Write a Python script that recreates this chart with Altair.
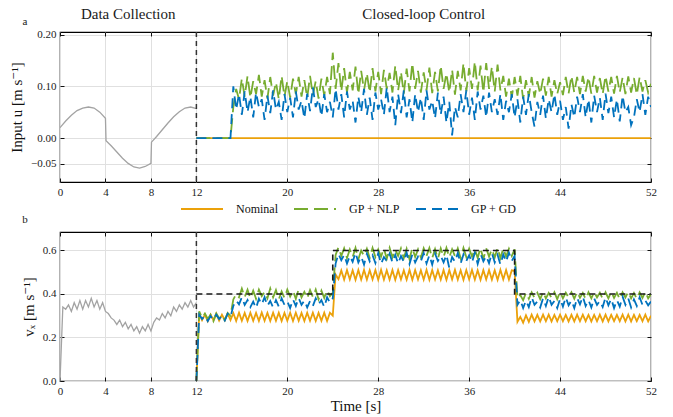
import altair as alt
import numpy as np
import pandas as pd

# ---------------------------------------------------------------- data
SERIES = ["Nominal", "GP + NLP", "GP + GD"]
COLORS = ["#EBA10A", "#77AC30", "#0072BD"]
DASHES = [[1, 0], [14, 6], [10, 6]]

X_TICKS = [0, 4, 8, 12, 20, 28, 36, 44, 52]
U_TICKS = [-0.05, 0.0, 0.10, 0.20]
V_TICKS = [0.0, 0.2, 0.4, 0.6]

PHASES = ["Data Collection", "Closed-loop Control"]
PHASE_CENTERS = [6, 32]

# data-collection excitation input (0-12 s)
t_collect_u = [0, 0.5, 1.0, 1.5, 2.0, 2.5, 3.0, 3.5, 4.0, 4.05, 4.5, 5.0, 5.5,
               6.0, 6.5, 7.0, 7.5, 8.0, 8.05, 8.5, 9.0, 9.5, 10.0, 10.5, 11.0,
               11.5, 12.0]
u_collect = [0.020, 0.033, 0.044, 0.053, 0.058, 0.060, 0.058, 0.050, 0.038,
             -0.005, -0.015, -0.027, -0.039, -0.049, -0.056, -0.058, -0.055,
             -0.049, -0.008, 0.003, 0.016, 0.029, 0.041, 0.051, 0.058, 0.060,
             0.057]

# data-collection forward velocity (0-12 s, every 0.25 s)
v_collect = [0.000, 0.340, 0.330, 0.350, 0.320, 0.360, 0.330, 0.370, 0.330,
             0.370, 0.340, 0.380, 0.340, 0.370, 0.330, 0.360, 0.320, 0.310,
             0.290, 0.280, 0.260, 0.280, 0.250, 0.270, 0.240, 0.260, 0.230,
             0.250, 0.220, 0.250, 0.230, 0.260, 0.230, 0.270, 0.290, 0.280,
             0.310, 0.290, 0.320, 0.300, 0.340, 0.320, 0.350, 0.330, 0.360,
             0.340, 0.370, 0.340, 0.360]

# closed-loop input, nominal controller (constant zero)
t_nominal_u = [12, 52]
u_nominal = [0.0, 0.0]

# closed-loop input, GP + NLP (12-52 s, every 0.25 s)
u_nlp = [
    0, 0, 0, 0,  0, 0, 0, 0,  0, 0, 0, 0,
    0, 0.060, 0.095, 0.075,
    0.115, 0.080, 0.120, 0.078,  0.110, 0.085, 0.122, 0.080,
    0.112, 0.076, 0.118, 0.082,  0.108, 0.075, 0.120, 0.080,
    0.110, 0.078, 0.115, 0.085,  0.118, 0.080, 0.112, 0.078,
    0.120, 0.083, 0.110, 0.076,  0.115, 0.082, 0.118, 0.085,
    0.165, 0.095, 0.145, 0.090,  0.135, 0.088, 0.128, 0.092,
    0.138, 0.085, 0.130, 0.092,  0.125, 0.088, 0.135, 0.090,
    0.128, 0.085, 0.132, 0.095,  0.126, 0.088, 0.140, 0.092,
    0.128, 0.086, 0.134, 0.090,  0.145, 0.095, 0.130, 0.088,
    0.127, 0.092, 0.136, 0.087,  0.128, 0.090, 0.140, 0.095,
    0.125, 0.088, 0.132, 0.084,  0.130, 0.092, 0.145, 0.090,
    0.135, 0.095, 0.148, 0.092,  0.140, 0.088, 0.145, 0.095,
    0.138, 0.090, 0.142, 0.092,  0.120, 0.080, 0.115, 0.078,
    0.118, 0.082, 0.120, 0.075,  0.112, 0.080, 0.118, 0.078,
    0.110, 0.085, 0.115, 0.082,  0.118, 0.080, 0.112, 0.085,
    0.108, 0.083, 0.118, 0.086,  0.120, 0.088, 0.118, 0.085,
    0.120, 0.090, 0.118, 0.086,  0.120, 0.088, 0.116, 0.085,
    0.120, 0.090, 0.118, 0.086,  0.120, 0.088, 0.117, 0.085,
    0.119, 0.088, 0.116, 0.084,  0.118, 0.090, 0.112, 0.088,
    0.105,
]

# closed-loop input, GP + GD (12-52 s, every 0.25 s)
u_gd = [
    0, 0, 0, 0,  0, 0, 0, 0,  0, 0, 0, 0,
    0, 0.100, 0.055, 0.085,
    0.045, 0.090, 0.050, 0.080,  0.040, 0.088, 0.060, 0.075,
    0.035, 0.082, 0.048, 0.092,  0.055, 0.070, 0.035, 0.085,
    0.050, 0.078, 0.040, 0.090,  0.055, 0.072, 0.038, 0.086,
    0.052, 0.098, 0.060, 0.075,  0.042, 0.085, 0.050, 0.070,
    0.040, 0.095, 0.055, 0.085,  0.040, 0.090, 0.055, 0.072,
    0.030, 0.080, 0.050, 0.095,  0.045, 0.078, 0.035, 0.088,
    0.055, 0.075, 0.045, 0.098,  0.050, 0.080, 0.025, 0.085,
    0.048, 0.092, 0.040, 0.075,  0.030, 0.085, 0.050, 0.078,
    0.035, 0.092, 0.055, 0.072,  0.038, 0.088, 0.045, 0.080,
    0.030, 0.070, 0.005, 0.060,  0.040, 0.085, 0.050, 0.092,
    0.045, 0.078, 0.035, 0.090,  0.055, 0.082, 0.040, 0.088,
    0.050, 0.075, 0.045, 0.085,  0.035, 0.072, 0.050, 0.085,
    0.040, 0.075, 0.030, 0.080,  0.045, 0.085, 0.050, 0.022,
    0.070, 0.045, 0.082, 0.038,  0.075, 0.050, 0.085, 0.045,
    0.072, 0.035, 0.060, 0.018,  0.065, 0.040, 0.080, 0.050,
    0.085, 0.040, 0.075, 0.030,  0.082, 0.050, 0.078, 0.035,
    0.086, 0.048, 0.080, 0.040,  0.075, 0.032, 0.082, 0.050,
    0.060, 0.025, 0.040, 0.075,  0.050, 0.085, 0.045, 0.080,
    0.060,
]

# closed-loop velocity, nominal controller
v_nominal = [
    0.000, 0.310, 0.280, 0.305,  0.275, 0.305, 0.280, 0.310,
    0.278, 0.305, 0.280, 0.310,  0.280, 0.312, 0.276, 0.314,
    0.277, 0.313, 0.276, 0.314,  0.277, 0.313, 0.276, 0.315,
    0.277, 0.313, 0.276, 0.314,  0.277, 0.314, 0.276, 0.313,
    0.277, 0.314, 0.276, 0.314,  0.277, 0.313, 0.276, 0.314,
    0.277, 0.314, 0.276, 0.313,  0.277, 0.314, 0.276, 0.314,
    0.300, 0.490, 0.468, 0.508,  0.466, 0.510, 0.467, 0.509,
    0.465, 0.510, 0.466, 0.511,  0.466, 0.509, 0.467, 0.510,
    0.465, 0.511, 0.466, 0.509,  0.466, 0.510, 0.465, 0.510,
    0.467, 0.509, 0.466, 0.511,  0.465, 0.510, 0.467, 0.509,
    0.466, 0.511, 0.465, 0.510,  0.467, 0.509, 0.466, 0.510,
    0.465, 0.510, 0.467, 0.511,  0.466, 0.509, 0.465, 0.510,
    0.467, 0.511, 0.466, 0.509,  0.465, 0.510, 0.467, 0.510,
    0.466, 0.509, 0.465, 0.511,  0.467, 0.510, 0.466, 0.509,
    0.505, 0.272, 0.295, 0.268,  0.302, 0.272, 0.305, 0.274,
    0.304, 0.274, 0.305, 0.275,  0.305, 0.274, 0.304, 0.275,
    0.305, 0.275, 0.304, 0.274,  0.304, 0.274, 0.305, 0.275,
    0.305, 0.275, 0.304, 0.274,  0.304, 0.275, 0.305, 0.274,
    0.305, 0.274, 0.304, 0.275,  0.304, 0.275, 0.305, 0.274,
    0.305, 0.274, 0.304, 0.275,  0.304, 0.275, 0.305, 0.274,
    0.300,
]

# closed-loop velocity, GP + NLP
v_nlp = [
    0.000, 0.320, 0.290, 0.310,  0.285, 0.305, 0.275, 0.310,
    0.290, 0.300, 0.280, 0.312,  0.300, 0.375, 0.400, 0.385,
    0.425, 0.385, 0.420, 0.380,  0.415, 0.378, 0.420, 0.390,
    0.410, 0.380, 0.425, 0.385,  0.418, 0.375, 0.412, 0.382,
    0.420, 0.388, 0.415, 0.378,  0.422, 0.384, 0.410, 0.380,
    0.418, 0.386, 0.420, 0.376,  0.415, 0.382, 0.418, 0.390,
    0.405, 0.580, 0.615, 0.575,  0.610, 0.565, 0.605, 0.570,
    0.612, 0.560, 0.600, 0.575,  0.608, 0.565, 0.612, 0.570,
    0.605, 0.572, 0.610, 0.562,  0.612, 0.568, 0.604, 0.575,
    0.610, 0.565, 0.608, 0.560,  0.612, 0.570, 0.605, 0.568,
    0.610, 0.575, 0.612, 0.565,  0.606, 0.562, 0.610, 0.570,
    0.612, 0.568, 0.606, 0.574,  0.610, 0.565, 0.612, 0.570,
    0.608, 0.572, 0.605, 0.566,  0.612, 0.560, 0.610, 0.572,
    0.606, 0.568, 0.612, 0.565,  0.610, 0.572, 0.608, 0.575,
    0.605, 0.380, 0.395, 0.372,  0.405, 0.378, 0.408, 0.382,
    0.406, 0.376, 0.410, 0.380,  0.405, 0.382, 0.408, 0.376,
    0.410, 0.380, 0.406, 0.384,  0.408, 0.378, 0.410, 0.382,
    0.405, 0.376, 0.408, 0.380,  0.410, 0.384, 0.406, 0.378,
    0.408, 0.380, 0.410, 0.382,  0.406, 0.376, 0.408, 0.384,
    0.410, 0.380, 0.405, 0.378,  0.408, 0.382, 0.410, 0.380,
    0.400,
]

# closed-loop velocity, GP + GD
v_gd = [
    0.000, 0.305, 0.285, 0.300,  0.275, 0.298, 0.282, 0.305,
    0.285, 0.300, 0.278, 0.310,  0.295, 0.345, 0.370, 0.352,
    0.385, 0.350, 0.372, 0.340,  0.365, 0.335, 0.378, 0.352,
    0.385, 0.345, 0.368, 0.338,  0.372, 0.342, 0.380, 0.350,
    0.366, 0.335, 0.375, 0.345,  0.382, 0.350, 0.370, 0.338,
    0.368, 0.345, 0.380, 0.352,  0.372, 0.340, 0.385, 0.360,
    0.380, 0.540, 0.585, 0.555,  0.580, 0.540, 0.575, 0.548,
    0.590, 0.545, 0.572, 0.535,  0.585, 0.550, 0.578, 0.542,
    0.588, 0.538, 0.570, 0.552,  0.585, 0.545, 0.580, 0.540,
    0.575, 0.548, 0.590, 0.538,  0.582, 0.545, 0.572, 0.550,
    0.588, 0.540, 0.578, 0.535,  0.585, 0.552, 0.575, 0.545,
    0.580, 0.520, 0.570, 0.548,  0.588, 0.540, 0.582, 0.552,
    0.578, 0.545, 0.590, 0.538,  0.585, 0.550, 0.575, 0.542,
    0.588, 0.545, 0.580, 0.535,  0.582, 0.548, 0.590, 0.552,
    0.575, 0.350, 0.372, 0.335,  0.370, 0.340, 0.385, 0.350,
    0.365, 0.338, 0.380, 0.345,  0.388, 0.350, 0.368, 0.335,
    0.378, 0.342, 0.385, 0.348,  0.370, 0.335, 0.382, 0.352,
    0.388, 0.345, 0.372, 0.338,  0.380, 0.350, 0.368, 0.340,
    0.385, 0.348, 0.378, 0.335,  0.372, 0.342, 0.388, 0.350,
    0.380, 0.338, 0.375, 0.345,  0.385, 0.350, 0.370, 0.348,
    0.365,
]

# reference velocity (step profile)
t_ref = [12, 24, 24, 40, 40, 52]
v_ref = [0.4, 0.4, 0.6, 0.6, 0.4, 0.4]

# sample times
t_collect_v = np.round(np.arange(len(v_collect)) * 0.25, 2)
t_closed = np.round(12 + np.arange(len(u_nlp)) * 0.25, 2)

# ---------------------------------------------------------------- frames
collect_u_df = pd.DataFrame({"t": t_collect_u, "y": u_collect})
collect_v_df = pd.DataFrame({"t": t_collect_v, "y": v_collect})

closed_u_df = pd.concat([
    pd.DataFrame({"t": t_nominal_u, "y": u_nominal, "series": SERIES[0]}),
    pd.DataFrame({"t": t_closed, "y": u_nlp, "series": SERIES[1]}),
    pd.DataFrame({"t": t_closed, "y": u_gd, "series": SERIES[2]}),
])
closed_v_df = pd.concat([
    pd.DataFrame({"t": t_closed, "y": v_nominal, "series": SERIES[0]}),
    pd.DataFrame({"t": t_closed, "y": v_nlp, "series": SERIES[1]}),
    pd.DataFrame({"t": t_closed, "y": v_gd, "series": SERIES[2]}),
])
ref_df = pd.DataFrame({"t": t_ref, "y": v_ref, "k": range(len(t_ref))})
phase_df = pd.DataFrame({"t": PHASE_CENTERS, "label": PHASES})

# ---------------------------------------------------------------- styling
W, H1, H2 = 591, 150, 149
FONT = "'Liberation Serif', 'DejaVu Serif', serif"
INWARD = alt.ExprRef(expr="-4")

x_scale = alt.Scale(domain=[0, 52], nice=False, zero=False)
u_scale = alt.Scale(domain=[-0.085, 0.205], nice=False, zero=False)
v_scale = alt.Scale(domain=[0, 0.685], nice=False, zero=False)
color_scale = alt.Scale(domain=SERIES, range=COLORS)
dash_scale = alt.Scale(domain=SERIES, range=DASHES)

legend = alt.Legend(
    orient="none", legendX=120, legendY=155, direction="horizontal", title=None,
    symbolType="stroke", symbolSize=1764, symbolStrokeWidth=2, labelFont=FONT,
    labelFontSize=12, labelColor="#111", labelOffset=12, columnPadding=12,
    padding=0,
)


def x_axis(title=None):
    return alt.Axis(values=X_TICKS, title=title, tickSize=INWARD, labelPadding=8,
                    labelFlush=False, grid=True, domain=False, titlePadding=2)


def y_axis(values, fmt, title):
    return alt.Axis(values=values, format=fmt, title=title, tickSize=INWARD,
                    labelPadding=8, grid=True, domain=False, titlePadding=6)


def mirror_x():
    return alt.Axis(orient="top", values=X_TICKS, labels=False, title=None,
                    tickSize=INWARD, grid=False, domain=False)


def mirror_y(values):
    return alt.Axis(orient="right", values=values, labels=False, title=None,
                    tickSize=INWARD, grid=False, domain=False)


def panel(collect_df, closed_df, y_scale, ticks, fmt, ytitle, height,
          letter, letter_y, xtitle=None, show_legend=False, ref=None,
          phases=False):
    leg = legend if show_legend else None
    main = alt.Chart(closed_df).mark_line(strokeWidth=1.8, clip=True).encode(
        x=alt.X("t:Q", scale=x_scale, axis=x_axis(xtitle)),
        y=alt.Y("y:Q", scale=y_scale, axis=y_axis(ticks, fmt, ytitle)),
        color=alt.Color("series:N", scale=color_scale, legend=leg),
        strokeDash=alt.StrokeDash("series:N", scale=dash_scale, legend=leg),
    )
    collect = alt.Chart(collect_df).mark_line(
        color="#A3A3A3", strokeWidth=1.3, clip=True
    ).encode(
        x=alt.X("t:Q", scale=x_scale, axis=mirror_x()),
        y=alt.Y("y:Q", scale=y_scale, axis=mirror_y(ticks)),
    )
    layers = [main, collect]
    if ref is not None:
        layers.append(
            alt.Chart(ref).mark_line(color="#1a1a1a", strokeWidth=1.6,
                                     strokeDash=[6, 4]).encode(
                x=alt.X("t:Q", scale=x_scale, axis=None),
                y=alt.Y("y:Q", scale=y_scale, axis=None),
                order="k:O",
            )
        )
    layers.append(
        alt.Chart(pd.DataFrame({"t": [12]})).mark_rule(
            color="#333333", strokeWidth=1.5, strokeDash=[5, 4]
        ).encode(
            x=alt.X("t:Q", scale=x_scale, axis=None),
            y=alt.value(0), y2=alt.value(height),
        )
    )
    if phases:
        layers.append(
            alt.Chart(phase_df).mark_text(
                font=FONT, fontSize=15, color="#1a1a1a", baseline="middle"
            ).encode(
                x=alt.X("t:Q", scale=x_scale, axis=None),
                y=alt.value(-18),
                text="label:N",
            )
        )
    layers.append(
        alt.Chart(pd.DataFrame({"label": [letter]})).mark_text(
            font=FONT, fontSize=11, color="#1a1a1a", baseline="middle"
        ).encode(x=alt.value(-35), y=alt.value(letter_y), text="label:N")
    )
    return alt.layer(*layers).resolve_axis(
        x="independent", y="independent"
    ).properties(width=W, height=height)


top = panel(collect_u_df, closed_u_df, u_scale, U_TICKS, ".2f",
            "Input u [m s⁻¹]", H1, "a", -10, show_legend=True, phases=True)
bottom = panel(collect_v_df, closed_v_df, v_scale, V_TICKS, ".1f",
               "vₓ [m s⁻¹]", H2, "b", -12, xtitle="Time [s]", ref=ref_df)

chart = alt.vconcat(top, bottom, spacing=-3).resolve_legend(
    color="independent", strokeDash="independent"
).properties(
    padding={"left": 8, "top": 6, "right": 12, "bottom": 2}
).configure(font=FONT).configure_view(
    stroke="black", strokeWidth=1.2
).configure_axis(
    labelFont=FONT, labelFontSize=11, labelColor="#222",
    titleFont=FONT, titleFontSize=15, titleFontWeight="normal", titleColor="#111",
    gridColor="#e0e0e0", gridWidth=1, tickColor="#111", tickWidth=1,
)

chart.save("out.html", embed_options={"renderer": "svg", "actions": False})
